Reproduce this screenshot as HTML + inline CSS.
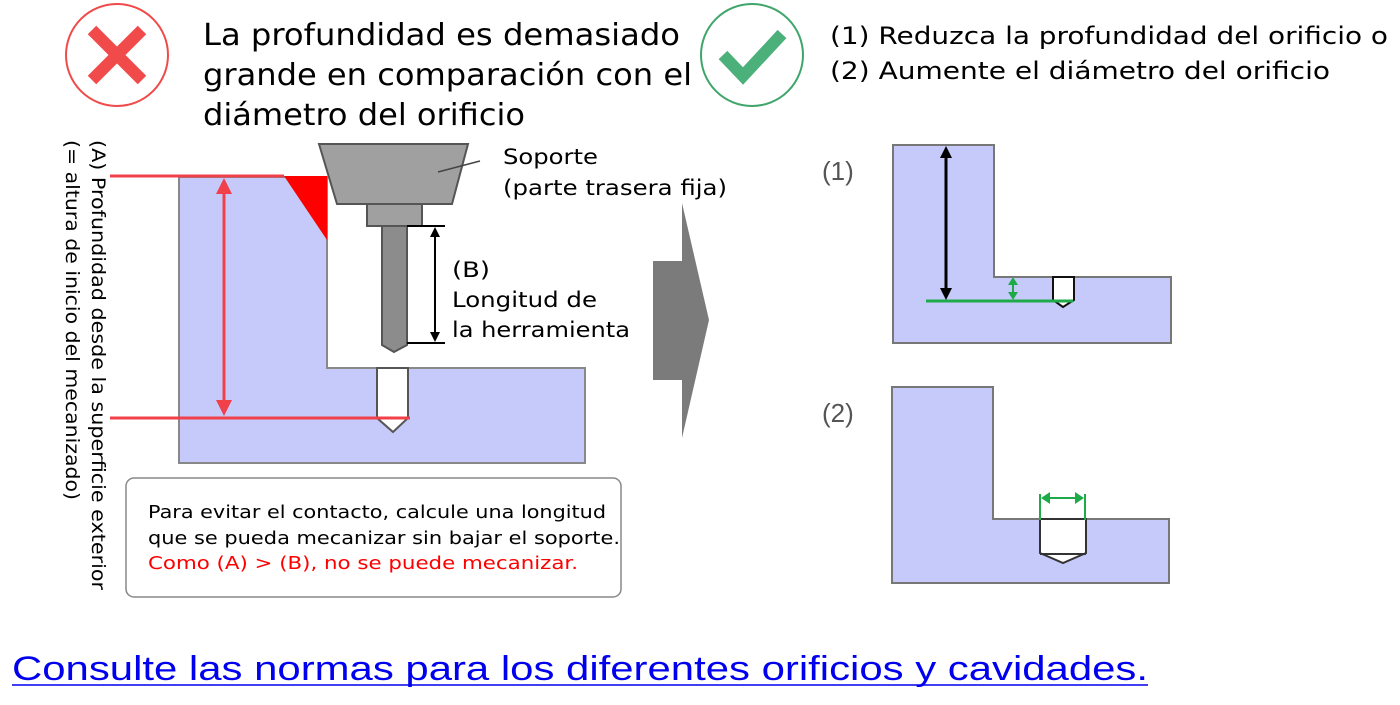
<!DOCTYPE html>
<html><head><meta charset="utf-8"><style>
body{margin:0;width:1400px;height:700px;background:#fff;overflow:hidden;font-family:"Liberation Sans","DejaVu Sans",sans-serif;}
</style></head><body>
<svg width="1400" height="700" viewBox="0 0 1400 700" xmlns="http://www.w3.org/2000/svg" font-family="'DejaVu Sans','Liberation Sans',sans-serif">
<circle cx="117" cy="55" r="51" fill="#fff" stroke="#f04a4a" stroke-width="2"/>
<path d="M92 30 L142 80 M142 30 L92 80" stroke="#f04a4a" stroke-width="12"/>
<circle cx="752" cy="55" r="51" fill="#fff" stroke="#3fa56a" stroke-width="2"/>
<path d="M723 55 L743 76 L782 34" stroke="#4cb07a" stroke-width="12" fill="none"/>
<g font-size="30" fill="#000" lengthAdjust="spacingAndGlyphs">
<text x="203" y="45" textLength="477" lengthAdjust="spacingAndGlyphs">La profundidad es demasiado</text>
<text x="203" y="85" textLength="489" lengthAdjust="spacingAndGlyphs">grande en comparación con el</text>
<text x="203" y="125" textLength="322" lengthAdjust="spacingAndGlyphs">diámetro del orificio</text>
</g>
<g font-size="24" fill="#000">
<text x="830" y="44" textLength="558" lengthAdjust="spacingAndGlyphs">(1) Reduzca la profundidad del orificio o</text>
<text x="830" y="79" textLength="500" lengthAdjust="spacingAndGlyphs">(2) Aumente el diámetro del orificio</text>
</g>
<g font-size="19" fill="#000">
<text transform="translate(92,140) rotate(90)" textLength="450" lengthAdjust="spacingAndGlyphs">(A) Profundidad desde la superficie exterior</text>
<text transform="translate(66,140) rotate(90)" textLength="360" lengthAdjust="spacingAndGlyphs">(= altura de inicio del mecanizado)</text>
</g>
<path d="M179 177 H327 V368 H585 V463 H179 Z" fill="#c6cafa" stroke="#888" stroke-width="2"/>
<path d="M284 176 H327 V240 Z" fill="#f00"/>
<path d="M377 368 H408 V418 L393 432 L377 418 Z" fill="#fff" stroke="#555" stroke-width="2"/>
<path d="M110 176 H284 M110 418 H410" stroke="#f0404a" stroke-width="3"/>
<path d="M224 186 V408" stroke="#f0404a" stroke-width="3"/>
<path d="M224 178 L216 194 H232 Z M224 416 L216 400 H232 Z" fill="#f0404a"/>
<path d="M319 144 H468 L452 204 H337 Z" fill="#a0a0a0" stroke="#555" stroke-width="2"/>
<line x1="438" y1="172" x2="480" y2="161" stroke="#444" stroke-width="1.5"/>
<rect x="367" y="204" width="55" height="22" fill="#a0a0a0" stroke="#555" stroke-width="2"/>
<path d="M382 226 H407 V345 L394 352 L382 345 Z" fill="#8c8c8c" stroke="#555" stroke-width="2"/>
<path d="M407 226 H445 M407 343 H445 M435 232 V337" stroke="#000" stroke-width="2"/>
<path d="M435 227 L430 237 H440 Z M435 342 L430 332 H440 Z" fill="#000"/>
<g font-size="21" fill="#000">
<text x="503" y="164" textLength="95" lengthAdjust="spacingAndGlyphs">Soporte</text>
<text x="503" y="195" textLength="224" lengthAdjust="spacingAndGlyphs">(parte trasera fija)</text>
<text x="452" y="277" textLength="38" lengthAdjust="spacingAndGlyphs">(B)</text>
<text x="452" y="307" textLength="145" lengthAdjust="spacingAndGlyphs">Longitud de</text>
<text x="452" y="337" textLength="178" lengthAdjust="spacingAndGlyphs">la herramienta</text>
</g>
<rect x="126" y="478" width="495" height="119" rx="8" fill="#fff" stroke="#888" stroke-width="1.5"/>
<g font-size="18">
<text x="148" y="518" fill="#000" textLength="458" lengthAdjust="spacingAndGlyphs">Para evitar el contacto, calcule una longitud</text>
<text x="148" y="544" fill="#000" textLength="472" lengthAdjust="spacingAndGlyphs">que se pueda mecanizar sin bajar el soporte.</text>
<text x="148" y="569" fill="#f00" textLength="430" lengthAdjust="spacingAndGlyphs">Como (A) &gt; (B), no se puede mecanizar.</text>
</g>
<path d="M653 261 H682 V203 L709 320 L682 438 V380 H653 Z" fill="#7b7b7b"/>
<g font-family="'Liberation Sans',sans-serif" font-size="26" fill="#555">
<text x="822" y="180">(1)</text>
<text x="822" y="422">(2)</text>
</g>
<path d="M893 145 H994 V277 H1171 V343 H893 Z" fill="#c6cafa" stroke="#777" stroke-width="2"/>
<path d="M1053 277 H1074 V300 L1063 307 L1053 300 Z" fill="#fff" stroke="#111" stroke-width="2"/>
<path d="M926 301 H1073" stroke="#1faa4a" stroke-width="3"/>
<path d="M946 154 V292" stroke="#000" stroke-width="3"/>
<path d="M946 146 L940 158 H952 Z M946 300 L940 288 H952 Z" fill="#000"/>
<path d="M1013 282 V296" stroke="#1faa4a" stroke-width="2"/>
<path d="M1013 277 L1008 285 H1018 Z M1013 300 L1008 292 H1018 Z" fill="#1faa4a"/>
<path d="M892 387 H993 V519 H1169 V583 H892 Z" fill="#c6cafa" stroke="#777" stroke-width="2"/>
<path d="M1040 519 H1086 V553 L1063 563 L1040 553 Z" fill="#fff" stroke="#333" stroke-width="2"/>
<path d="M1040 554 H1086" stroke="#333" stroke-width="2"/>
<path d="M1040 494 V520 M1085 494 V520 M1046 498 H1079" stroke="#1faa4a" stroke-width="2"/>
<path d="M1041 498 L1050 492 V504 Z M1084 498 L1075 492 V504 Z" fill="#1faa4a"/>
<text x="12" y="680" font-family="'Liberation Sans',sans-serif" font-size="34" fill="#0000ee" textLength="1136" lengthAdjust="spacingAndGlyphs">Consulte las normas para los diferentes orificios y cavidades.</text>
<line x1="12" y1="685" x2="1148" y2="685" stroke="#0000ee" stroke-width="1.5"/>
</svg>
</body></html>
